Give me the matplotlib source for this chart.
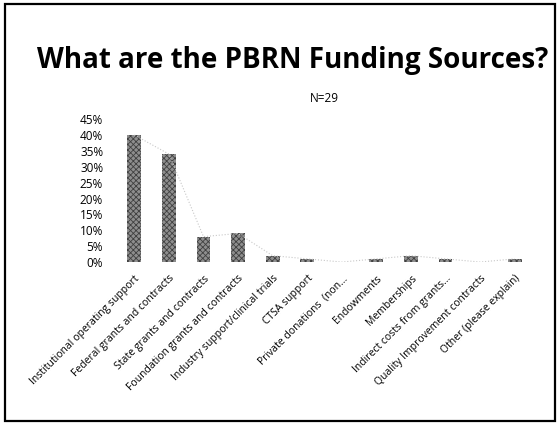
import matplotlib
matplotlib.use('Agg')
import matplotlib.pyplot as plt
from matplotlib.patches import Rectangle

plt.rcParams['font.family'] = ['Open Sans', 'DejaVu Sans']
plt.rcParams['hatch.linewidth'] = 0.6

categories = [
    'Institutional operating support',
    'Federal grants and contracts',
    'State grants and contracts',
    'Foundation grants and contracts',
    'Industry support/clinical trials',
    'CTSA support',
    'Private donations  (non...',
    'Endowments',
    'Memberships',
    'Indirect costs from grants...',
    'Quality Improvement contracts',
    'Other (please explain)',
]
values = [40, 34, 8, 9, 2, 1, 0, 1, 2, 1, 0, 1]
yticks = [0, 5, 10, 15, 20, 25, 30, 35, 40, 45]

fig = plt.figure(figsize=(5.6, 4.24), dpi=100)

# slide frame
fig.patches.append(Rectangle((0.009, 0.007), 0.982, 0.983, transform=fig.transFigure,
                             fill=False, edgecolor='black', linewidth=1.6))

fig.text(0.522, 0.858, 'What are the PBRN Funding Sources?', ha='center', va='center',
         fontsize=20, fontweight='bold', color='black')

ax = fig.add_axes([0.209, 0.382, 0.741, 0.337])
x = range(len(categories))
ax.bar(x, values, width=0.4, color='#8e8e8e', hatch='xxxxxx', edgecolor='#404040', linewidth=0)
ax.plot(x, values, color='#c8c8c8', linestyle=':', linewidth=0.8)

ax.set_xlim(-0.5, len(categories) - 0.5)
ax.set_ylim(0, 45)
ax.set_yticks(yticks)
ax.set_yticklabels([f'{t}%' for t in yticks], fontsize=8.5)
ax.set_xticks(list(x))
ax.set_xticklabels(categories, rotation=45, ha='right', rotation_mode='anchor', fontsize=7.5)
ax.tick_params(axis='y', length=0, pad=10)
ax.tick_params(axis='x', length=0, pad=8)
for s in ax.spines.values():
    s.set_visible(False)
ax.set_title('N=29', fontsize=8.5, pad=12)

fig.savefig('out.png', dpi=100)
